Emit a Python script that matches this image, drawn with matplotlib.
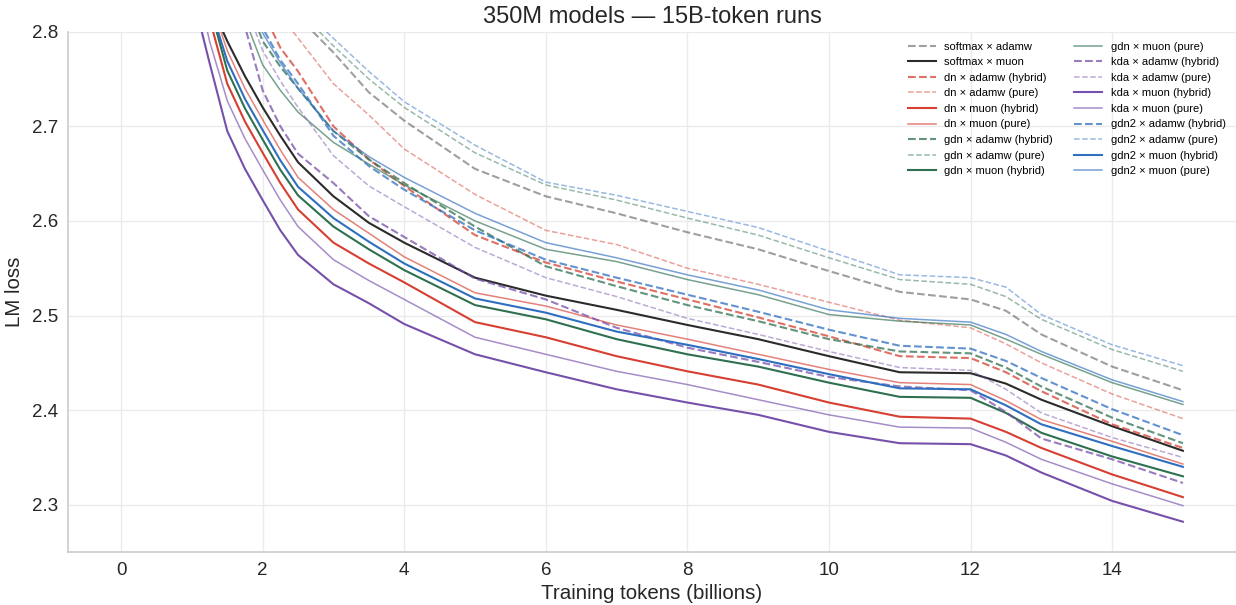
import matplotlib

matplotlib.use("Agg")
import matplotlib.pyplot as plt
import numpy as np

# training tokens (billions) at which values were read
TOKENS = [1.25, 1.5, 1.75, 2, 2.25, 2.5, 3, 3.5, 4, 5, 6, 7, 8, 9, 10, 11, 12, 12.5, 13, 14, 15]

LABELS = [
    "softmax × adamw", "softmax × muon",
    "dn × adamw (hybrid)", "dn × adamw (pure)", "dn × muon (hybrid)", "dn × muon (pure)",
    "gdn × adamw (hybrid)", "gdn × adamw (pure)", "gdn × muon (hybrid)", "gdn × muon (pure)",
    "kda × adamw (hybrid)", "kda × adamw (pure)", "kda × muon (hybrid)", "kda × muon (pure)",
    "gdn2 × adamw (hybrid)", "gdn2 × adamw (pure)", "gdn2 × muon (hybrid)", "gdn2 × muon (pure)",
]
# x where each curve enters the frame at the top (loss = 2.8)
ENTRY_X = [2.71, 1.44, 2.14, 2.43, 1.30, 1.41, 1.95, 2.80, 1.35, 1.82,
           1.77, 1.90, 1.14, 1.22, 2.03, 2.90, 1.37, 1.99]

N = None
SOFTMAX_ADAMW = [N, N, N, N, N, N, 2.778, 2.736, 2.706, 2.655, 2.626, 2.608, 2.588, 2.570, 2.547, 2.525, 2.517, 2.505, 2.480, 2.446, 2.421]
SOFTMAX_MUON = [N, 2.790, 2.753, 2.720, 2.690, 2.662, 2.626, 2.598, 2.577, 2.540, 2.521, 2.506, 2.490, 2.475, 2.457, 2.440, 2.439, 2.428, 2.411, 2.383, 2.357]
DN_ADAMW_H = [N, N, N, N, 2.783, 2.758, 2.700, 2.665, 2.637, 2.585, 2.556, 2.536, 2.517, 2.498, 2.478, 2.457, 2.455, 2.440, 2.420, 2.385, 2.360]
DN_ADAMW_P = [N, N, N, N, N, N, 2.745, 2.712, 2.676, 2.628, 2.590, 2.575, 2.550, 2.533, 2.514, 2.495, 2.487, 2.470, 2.450, 2.417, 2.391]
DN_MUON_H = [N, 2.745, 2.705, 2.672, 2.640, 2.612, 2.577, 2.555, 2.535, 2.493, 2.477, 2.457, 2.441, 2.427, 2.408, 2.393, 2.391, 2.377, 2.360, 2.332, 2.308]
DN_MUON_P = [N, 2.780, 2.740, 2.707, 2.675, 2.646, 2.612, 2.587, 2.562, 2.524, 2.510, 2.490, 2.475, 2.459, 2.443, 2.429, 2.427, 2.410, 2.390, 2.367, 2.343]
GDN_ADAMW_H = [N, N, N, 2.790, 2.763, 2.740, 2.695, 2.665, 2.640, 2.594, 2.552, 2.531, 2.511, 2.494, 2.475, 2.462, 2.460, 2.445, 2.425, 2.392, 2.365]
GDN_ADAMW_P = [N, N, N, N, N, N, 2.785, 2.750, 2.720, 2.672, 2.638, 2.622, 2.603, 2.585, 2.561, 2.538, 2.533, 2.520, 2.496, 2.464, 2.441]
GDN_MUON_H = [N, 2.759, 2.719, 2.686, 2.654, 2.627, 2.594, 2.570, 2.548, 2.511, 2.496, 2.475, 2.459, 2.446, 2.429, 2.414, 2.413, 2.397, 2.376, 2.351, 2.330]
GDN_MUON_P = [N, N, N, 2.765, 2.738, 2.715, 2.683, 2.660, 2.638, 2.600, 2.570, 2.557, 2.538, 2.522, 2.501, 2.494, 2.490, 2.475, 2.459, 2.429, 2.406]
KDA_ADAMW_H = [N, N, N, 2.738, 2.700, 2.671, 2.640, 2.605, 2.583, 2.539, 2.517, 2.487, 2.466, 2.451, 2.435, 2.425, 2.421, 2.398, 2.370, 2.348, 2.323]
KDA_ADAMW_P = [N, N, N, 2.780, 2.748, 2.720, 2.669, 2.637, 2.615, 2.572, 2.540, 2.520, 2.497, 2.480, 2.462, 2.445, 2.442, 2.422, 2.397, 2.371, 2.350]
KDA_MUON_H = [2.767, 2.695, 2.655, 2.622, 2.590, 2.564, 2.533, 2.513, 2.491, 2.459, 2.440, 2.422, 2.408, 2.395, 2.377, 2.365, 2.364, 2.352, 2.334, 2.304, 2.282]
KDA_MUON_P = [2.790, 2.727, 2.687, 2.654, 2.622, 2.594, 2.559, 2.537, 2.517, 2.477, 2.459, 2.441, 2.427, 2.411, 2.395, 2.382, 2.381, 2.366, 2.348, 2.322, 2.299]
GDN2_ADAMW_H = [N, N, N, N, 2.770, 2.745, 2.690, 2.658, 2.633, 2.590, 2.559, 2.540, 2.522, 2.504, 2.485, 2.468, 2.465, 2.452, 2.434, 2.401, 2.3735]
GDN2_ADAMW_P = [N, N, N, N, N, N, N, 2.758, 2.726, 2.680, 2.641, 2.627, 2.610, 2.593, 2.568, 2.543, 2.540, 2.530, 2.501, 2.469, 2.447]
GDN2_MUON_H = [N, 2.769, 2.729, 2.696, 2.664, 2.636, 2.603, 2.578, 2.555, 2.518, 2.503, 2.483, 2.469, 2.454, 2.438, 2.423, 2.422, 2.405, 2.385, 2.362, 2.340]
GDN2_MUON_P = [N, N, N, N, 2.767, 2.740, 2.695, 2.668, 2.646, 2.608, 2.577, 2.561, 2.543, 2.527, 2.506, 2.497, 2.493, 2.480, 2.462, 2.432, 2.409]

SERIES = [SOFTMAX_ADAMW, SOFTMAX_MUON, DN_ADAMW_H, DN_ADAMW_P, DN_MUON_H, DN_MUON_P,
          GDN_ADAMW_H, GDN_ADAMW_P, GDN_MUON_H, GDN_MUON_P, KDA_ADAMW_H, KDA_ADAMW_P,
          KDA_MUON_H, KDA_MUON_P, GDN2_ADAMW_H, GDN2_ADAMW_P, GDN2_MUON_H, GDN2_MUON_P]

COLOR = {"softmax": "#2b2b2b", "dn": "#d63f31", "gdn": "#2f7050",
         "kda": "#7650aa", "gdn2": "#2f6fc0"}

plt.rcParams["font.family"] = ["Liberation Sans", "DejaVu Sans"]

fig = plt.figure(figsize=(12.36, 6.05), dpi=100)
ax = fig.add_axes([0.055, 0.0876, 0.945, 0.86])

for label, x0, vals in zip(LABELS, ENTRY_X, SERIES):
    arch = label.split(" ")[0]
    adamw = "adamw" in label
    pure = "(pure)" in label
    xs = [x0] + [t for t, v in zip(TOKENS, vals) if v is not None]
    ys = [2.8] + [v for v in vals if v is not None]
    if arch == "softmax":
        alpha = 0.45 if adamw else 1.0
        lw = 1.5
    else:
        alpha = (0.75 if adamw else 1.0) * (0.65 if pure else 1.0)
        lw = 1.1 if pure else 1.5
    ax.plot(xs, ys, color=COLOR[arch], alpha=alpha, lw=lw,
            ls="--" if adamw else "-", label=label)

ax.set_xlim(-0.75, 15.75)
ax.set_ylim(2.25, 2.8)
ax.set_xticks(np.arange(0, 15, 2))
ax.set_yticks([2.3, 2.4, 2.5, 2.6, 2.7, 2.8])
ax.tick_params(length=0, labelsize=13.5, labelcolor="#262626", pad=7)
ax.grid(True, color="#ebebeb", lw=1)
ax.set_axisbelow(True)
for side in ("top", "right"):
    ax.spines[side].set_visible(False)
for side in ("left", "bottom"):
    ax.spines[side].set_color("#cccccc")
    ax.spines[side].set_linewidth(1.2)

ax.set_xlabel("Training tokens (billions)", fontsize=14.8, color="#262626", labelpad=4)
ax.set_ylabel("LM loss", fontsize=14.8, color="#262626", labelpad=6)
ax.set_title("350M models — 15B-token runs", fontsize=17, color="#262626", pad=6)

ax.legend(loc="upper right", ncol=2, frameon=False, fontsize=8,
          labelspacing=0.5, columnspacing=1.9, handlelength=2.5,
          bbox_to_anchor=(1.0, 1.0))

fig.savefig("out.png", dpi=100)
